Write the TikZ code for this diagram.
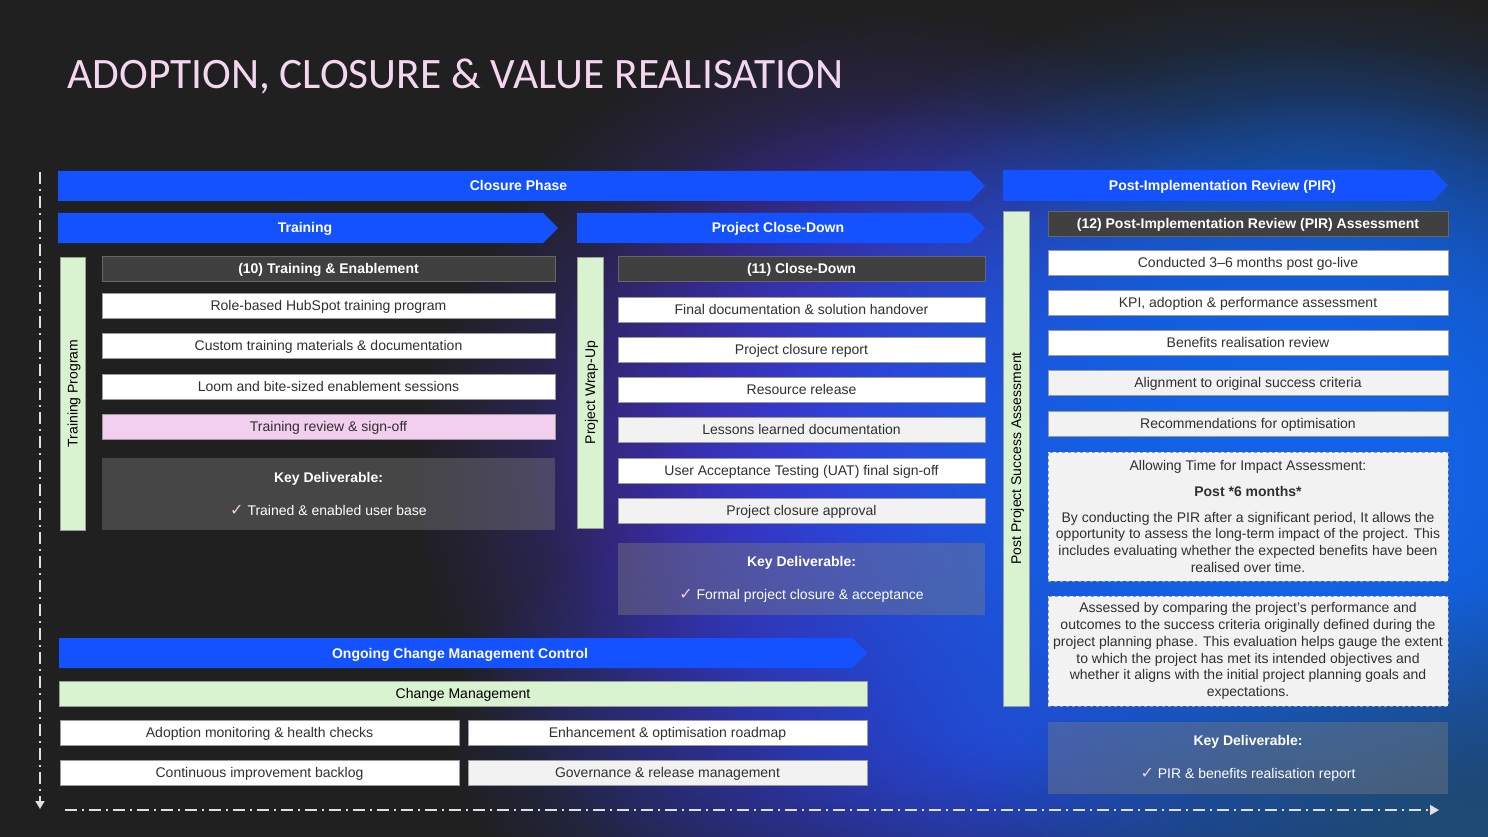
\documentclass[tikz,border=0pt]{standalone}
\usepackage{fontspec}
\setmainfont{Liberation Sans}
\newfontfamily\titlefont{Carlito}
\newfontfamily\checkfont{DejaVu Sans}
\usetikzlibrary{arrows.meta,fadings}

\definecolor{bgdark}{HTML}{202020}
\definecolor{barblue}{HTML}{1452FF}
\definecolor{hdrgray}{HTML}{404040}
\definecolor{mintgreen}{HTML}{D9F2D0}
\definecolor{softpink}{HTML}{F2CFEE}
\definecolor{lightgray}{HTML}{F2F2F2}
\definecolor{inkgray}{HTML}{303030}
\definecolor{edgegray}{HTML}{9A9A9A}
\definecolor{titlepink}{HTML}{F4D6F0}
\definecolor{glowpurple}{HTML}{4530D4}
\definecolor{glowblue}{HTML}{1264E8}
\definecolor{glowdeep}{HTML}{2C3AC4}
\definecolor{glowteal}{HTML}{1F4C74}

\tikzfading[name=glowfade, inner color=transparent!0, outer color=transparent!100]

\tikzset{
  itembox/.style={draw=edgegray, line width=0.6pt, fill=white, text=inkgray,
    minimum height=25pt, inner sep=0pt, text height=12pt, text depth=2pt,
    font=\fontsize{14}{16}\selectfont},
  graybox/.style={itembox, fill=lightgray},
  pinkbox/.style={itembox, fill=softpink},
  greenbox/.style={itembox, fill=mintgreen, text=black},
  hdrbox/.style={itembox, draw=hdrgray!80!white, fill=hdrgray, text=white,
    font=\bfseries\fontsize{14}{16}\selectfont},
  bartext/.style={text=white, text height=12pt, text depth=2pt,
    font=\bfseries\fontsize{14}{16}\selectfont},
  notebox/.style={draw=edgegray, dashed, line width=0.6pt, fill=lightgray, text=inkgray,
    inner sep=0pt, align=center, font=\fontsize{14}{16.8}\selectfont},
  keybox/.style={fill=gray, fill opacity=0.4, text opacity=1, text=white, inner sep=0pt,
    align=center, font=\fontsize{14}{16}\selectfont},
  axisline/.style={draw=white!88!black, line width=1.5pt,
    dash pattern=on 12pt off 5pt on 2pt off 5pt},
  glow/.style={fill=#1, path fading=glowfade},
}

% name, x-left, x-right, y-top, y-bottom, label
\newcommand{\phasebar}[6]{
    \fill[barblue] (#2,#4) -- ({#3-15},#4) -- (#3,{(#4+#5)/2})
      -- ({#3-15},#5) -- (#2,#5) -- cycle;
    \node[bartext] (#1) at ({(#2+#3)/2-3},{(#4+#5)/2}) {#6};
}
% name, x-left, x-right, y-top, style, text
\newcommand{\itemrow}[6]{
    \node[#5, minimum width={#3pt-#2pt}] (#1) at ({(#2+#3)/2},{#4+12.5}) {#6};
}
% name, x-left, x-right, y-top, y-bottom, text
\newcommand{\sidelabel}[6]{
    \node[greenbox, rotate=90, minimum width={#5pt-#4pt}, minimum height={#3pt-#2pt}]
      (#1) at ({(#2+#3)/2},{(#4+#5)/2}) {#6};
}
% name, x-left, x-right, y-top, y-bottom, deliverable
\newcommand{\keydeliv}[6]{
    \node[keybox, minimum width={#3pt-#2pt}, minimum height={#5pt-#4pt}]
      (#1) at ({(#2+#3)/2},{(#4+#5)/2})
      {\textbf{Key Deliverable:}\\[17pt]{\checkfont\color{softpink}\fontsize{16}{16}\selectfont ✓}\ #6};
}

\begin{document}
\begin{tikzpicture}[x=1pt, y=-1pt]

  \useasboundingbox (0,0) rectangle (1488,837);
  \fill[bgdark] (0,0) rectangle (1488,837);

  % background glow
  \begin{scope}
    \clip (0,0) rectangle (1488,837);
    \fill[glow=glowpurple] (890,470) ellipse (480 and 460);
    \fill[glow=glowpurple] (910,450) ellipse (380 and 360);
    \fill[glow=glowdeep] (980,730) ellipse (540 and 270);
    \fill[glow=glowblue] (1300,490) ellipse (660 and 500);
    \fill[glow=glowblue] (1310,470) ellipse (540 and 430);
    \fill[glow=glowblue] (1330,440) ellipse (400 and 350);
    \fill[glow=glowteal] (1470,840) ellipse (480 and 250);
  \end{scope}

  \node[anchor=base west, text=titlepink, font=\titlefont\fontsize{43.4}{50}\selectfont]
    (title) at (64,89) {ADOPTION, CLOSURE \& VALUE REALISATION};

  % axes
  \coordinate (vtop) at (40,172);
  \coordinate (vend) at (40,809);
  \coordinate (hleft) at (65,810);
  \coordinate (hend) at (1439,810);
  \draw[axisline, -{Triangle[width=9pt,length=8pt]}] (vtop) -- (vend);
  \draw[axisline, -{Triangle[width=10pt,length=9pt]}] (hleft) -- (hend);

  % phase bars
  \phasebar{closure}{58}{985}{171}{201}{Closure Phase}
  \phasebar{pir}{1003}{1448}{170}{201}{Post-Implementation Review (PIR)}
  \phasebar{training}{58}{558}{213}{243}{Training}
  \phasebar{closedown}{577}{985}{213}{243}{Project Close-Down}
  \phasebar{ongoing}{59}{867}{638}{668}{Ongoing Change Management Control}

  % training
  \sidelabel{trprog}{60}{85}{257}{530}{Training Program}
  \itemrow{trhead}{102}{555}{256}{hdrbox}{(10) Training \& Enablement}
  \itemrow{tra}{102}{555}{293}{itembox}{Role-based HubSpot training program}
  \itemrow{trb}{102}{555}{333}{itembox}{Custom training materials \& documentation}
  \itemrow{trc}{102}{555}{374}{itembox}{Loom and bite-sized enablement sessions}
  \itemrow{trd}{102}{555}{414}{pinkbox}{Training review \& sign-off}
  \keydeliv{trkey}{102}{555}{458}{530}{Trained \& enabled user base}

  % close-down
  \sidelabel{wrapup}{577}{603}{257}{528}{Project Wrap-Up}
  \itemrow{cdhead}{618}{985}{256}{hdrbox}{(11) Close-Down}
  \itemrow{cda}{618}{985}{297}{itembox}{Final documentation \& solution handover}
  \itemrow{cdb}{618}{985}{337}{itembox}{Project closure report}
  \itemrow{cdc}{618}{985}{377}{itembox}{Resource release}
  \itemrow{cdd}{618}{985}{417}{graybox}{Lessons learned documentation}
  \itemrow{cde}{618}{985}{458}{itembox}{User Acceptance Testing (UAT) final sign-off}
  \itemrow{cdf}{618}{985}{498}{graybox}{Project closure approval}
  \keydeliv{cdkey}{618}{985}{543}{615}{Formal project closure \& acceptance}

  % post-implementation review
  \sidelabel{success}{1003}{1029}{211}{706}{Post Project Success Assessment}
  \itemrow{pirhead}{1048}{1448}{211}{hdrbox}{(12) Post-Implementation Review (PIR) Assessment}
  \itemrow{pira}{1048}{1448}{250}{itembox}{Conducted 3–6 months post go-live}
  \itemrow{pirb}{1048}{1448}{290}{itembox}{KPI, adoption \& performance assessment}
  \itemrow{pirc}{1048}{1448}{330}{itembox}{Benefits realisation review}
  \itemrow{pird}{1048}{1448}{370}{graybox}{Alignment to original success criteria}
  \itemrow{pire}{1048}{1448}{411}{graybox}{Recommendations for optimisation}
  \node[notebox, minimum width=400pt, minimum height=129pt] (impact) at (1248,516.5)
    {Allowing Time for Impact Assessment:\\[9pt]
     \textbf{Post *6 months*}\\[9pt]
     By conducting the PIR after a significant period, It allows the\\
     opportunity to assess the long-term impact of the project. This\\
     includes evaluating whether the expected benefits have been\\
     realised over time.};
  \node[notebox, minimum width=400pt, minimum height=110pt] (criteria) at (1248,651)
    {Assessed by comparing the project's performance and\\
     outcomes to the success criteria originally defined during the\\
     project planning phase. This evaluation helps gauge the extent\\
     to which the project has met its intended objectives and\\
     whether it aligns with the initial project planning goals and\\
     expectations.};
  \keydeliv{pirkey}{1048}{1448}{722}{794}{PIR \& benefits realisation report}

  % ongoing change management
  \itemrow{cmbar}{59}{867}{681}{greenbox}{Change Management}
  \itemrow{cma}{60}{459}{720}{itembox}{Adoption monitoring \& health checks}
  \itemrow{cmb}{468}{867}{720}{itembox}{Enhancement \& optimisation roadmap}
  \itemrow{cmc}{60}{459}{760}{itembox}{Continuous improvement backlog}
  \itemrow{cmd}{468}{867}{760}{graybox}{Governance \& release management}

\end{tikzpicture}
\end{document}
